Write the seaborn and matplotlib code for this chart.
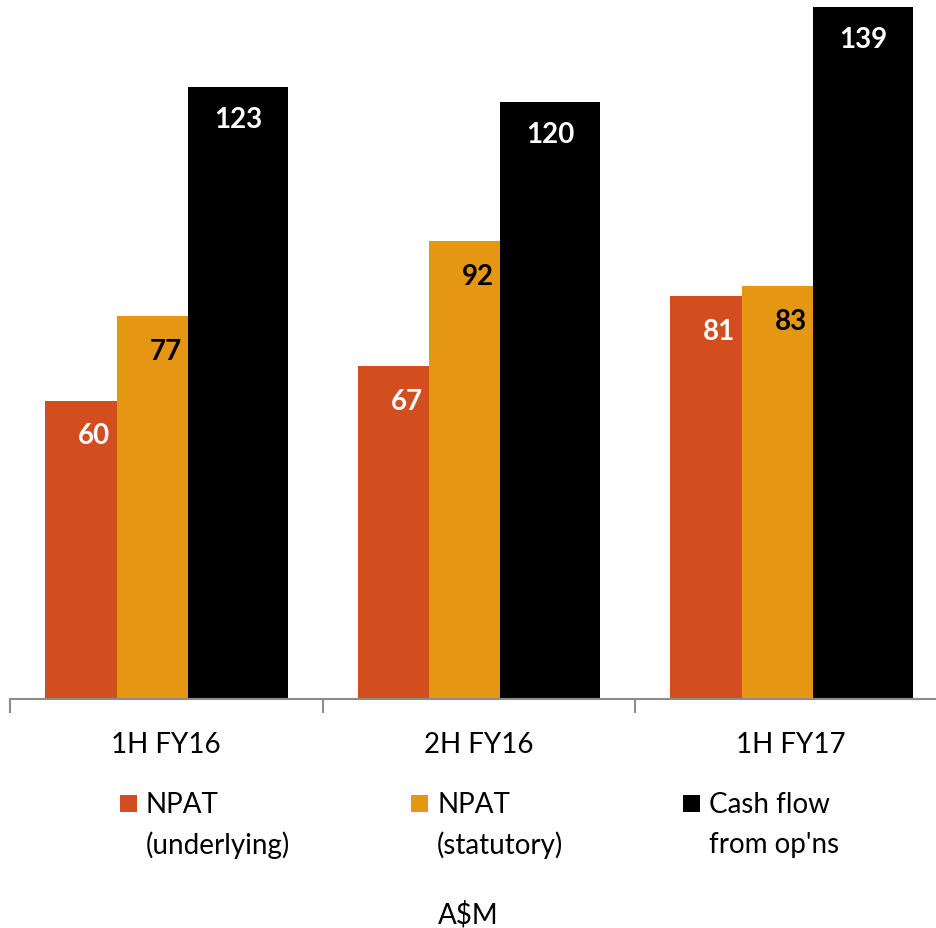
import matplotlib
matplotlib.use("Agg")
import matplotlib.pyplot as plt
import seaborn as sns
import pandas as pd
from matplotlib.patches import Rectangle

# Data (A$M)
periods = ["1H FY16", "2H FY16", "1H FY17"]
npat_underlying = [60, 67, 81]
npat_statutory = [77, 92, 83]
cash_flow_ops = [123, 120, 139]
series_names = ["NPAT\n(underlying)", "NPAT\n(statutory)", "Cash flow\nfrom op'ns"]

colors = ["#D24E1E", "#E49712", "#000000"]
label_colors = ["white", "black", "white"]

df = pd.DataFrame({
    "period": periods * 3,
    "series": [series_names[0]] * 3 + [series_names[1]] * 3 + [series_names[2]] * 3,
    "value": npat_underlying + npat_statutory + cash_flow_ops,
})

sns.set_theme(style="white")
plt.rcParams["font.family"] = ["Lato", "DejaVu Sans"]

W, H = 936, 929
fig = plt.figure(figsize=(W / 100, H / 100), dpi=100)
base_px = 700           # baseline, pixels from top
group_px = 312.5        # width of one category slot
ax_left_px = 10
ax = fig.add_axes([ax_left_px / W, (H - base_px) / H, (W - ax_left_px) / W, base_px / H])

sns.barplot(data=df, x="period", y="value", hue="series", palette=colors,
            order=periods, hue_order=series_names, ax=ax, legend=False,
            saturation=1, errorbar=None, edgecolor="none", linewidth=0)

px_per_unit = 4.975

# Bar extents inside each slot (fraction of slot, relative to the slot centre)
bar_spans = [(-0.388, -0.158), (-0.158, 0.0696), (0.0696, 0.389)]
label_shift = [0.042, 0.042, 0.0]
label_drop = [35, 35, 32]  # pixels below bar top

for h, cont in enumerate(ax.containers):
    lo, hi = bar_spans[h]
    for i, bar in enumerate(cont.patches):
        bar.set_x(i + lo)
        bar.set_width(hi - lo)
        val = bar.get_height()
        cx = i + (lo + hi) / 2 + label_shift[h]
        ax.text(cx, val - label_drop[h] / px_per_unit, f"{val:g}",
                ha="center", va="center", fontsize=20, fontweight="bold",
                color=label_colors[h])

# Axis styling
for s in ["top", "right", "left"]:
    ax.spines[s].set_visible(False)
ax.spines["bottom"].set_color("#8C8C8C")
ax.spines["bottom"].set_linewidth(1.5)
ax.set_yticks([])
ax.set_ylabel("")
ax.set_xlabel("")
ax.set_xticks([-0.5, 0.5, 1.5, 2.5], minor=False)
ax.set_xticklabels([])
ax.tick_params(axis="x", which="major", direction="out", length=10, width=1.5,
               color="#8C8C8C", bottom=True)
ax.set_xticks(range(len(periods)), minor=True)
ax.set_xticklabels(periods, minor=True)
ax.tick_params(axis="x", which="minor", length=0, pad=23, labelsize=20, labelcolor="black")

# Limits set last so tick placement does not widen the view
ax.set_ylim(0, base_px / px_per_unit)
ax.set_xlim(-0.5, -0.5 + (W - ax_left_px) / group_px)

# Legend drawn beneath the axis
legend_x = [120, 411, 683]
sq = 17
for k, name in enumerate(series_names):
    x0 = legend_x[k]
    fig.patches.append(Rectangle((x0 / W, (H - 813) / H), sq / W, sq / H,
                                 transform=fig.transFigure, facecolor=colors[k],
                                 edgecolor="none"))
    lines = name.split("\n")
    for j, line in enumerate(lines):
        fig.text((x0 + 26) / W, (H - (805 + 40 * j)) / H, line,
                 ha="left", va="center", fontsize=20, color="black")

fig.text(468 / W, (H - 915) / H, "A$M", ha="center", va="center",
         fontsize=20, color="black")

fig.savefig("out.png", dpi=100, facecolor="white")
